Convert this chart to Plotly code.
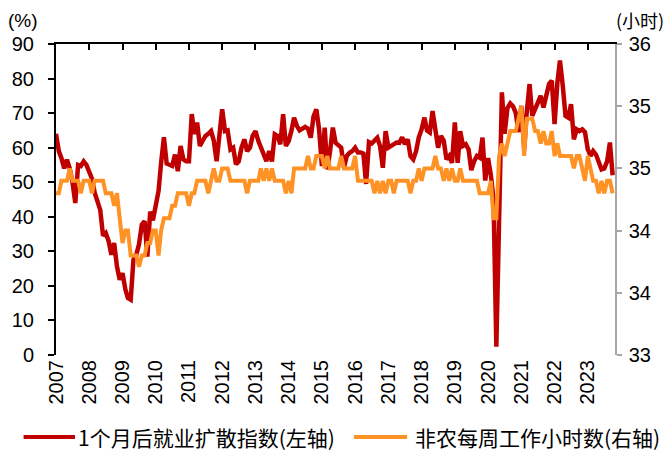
import pandas as pd
import plotly.graph_objects as go

# monthly data, Jan 2007 - Oct 2023
months = pd.date_range("2007-01-01", periods=202, freq="MS")

# 1个月后就业扩散指数 (左轴, %)
diffusion = [
    64, 59, 57, 54, 56.5, 54, 50, 44, 55, 54.7, 56, 55,
    53, 51, 47, 44, 42, 34.5, 35.3, 33, 29, 32.4, 25.6, 21.8,
    23.7, 19, 16.5, 16, 27.6, 29, 32, 37.7, 38.7, 28.5, 41.5, 39,
    44, 47.5, 55.6, 63, 55.4, 55.2, 54.7, 58, 53.2, 60.5, 56.6, 56.1,
    56.1, 69.7, 64, 67.3, 60.5, 62, 63.4, 64, 64.8, 62, 56.1, 63.4,
    71.1, 64.8, 65, 59.5, 60, 55.2, 56, 60, 62.4, 59, 60, 63.4,
    64.8, 62, 60, 57.5, 56.1, 59, 56, 63.9, 63.4, 61, 69.7, 60.5,
    61.9, 65, 68.7, 66.3, 65, 65.5, 66, 65.5, 62.9, 69, 71.1, 65.3,
    54.7, 65.8, 53.7, 59, 65.8, 61.4, 60.5, 60, 54.2, 57.6, 58.5, 59,
    60, 58.6, 58.6, 58.3, 49.5, 61.6, 61.2, 62, 62.9, 60.5, 54.2, 64.8,
    60, 60.5, 61, 61.5, 61.4, 63, 61, 62.4, 57.5, 56.6, 59, 63,
    65.3, 68.7, 65, 64.4, 70.6, 66, 60, 63.4, 62, 56.6, 57.6, 55.6,
    67.3, 55.6, 64.8, 60.5, 61, 59.5, 53.5, 56.1, 57.6, 57.1, 62.9, 50.5,
    57, 52, 45, 2.4, 36.3, 76, 64, 71.5, 72.8, 72, 70, 64.5,
    72.1, 59.5, 70.2, 78.4, 69.2, 71, 72.6, 75, 71.6, 75, 78.4, 79.4,
    66.8, 78.9, 85.2, 77.9, 69.2, 68.7, 72.6, 62.4, 65.3, 64.8, 65.3, 64.5,
    59.5, 57.6, 59, 58, 56, 53.7, 54, 56, 61.5, 52,
]

# 非农每周工作小时数 (右轴, 小时)
hours = [
    34.56, 34.56, 34.68, 34.68, 34.68, 34.80, 34.68, 34.68, 34.68, 34.56, 34.68, 34.68,
    34.68, 34.56, 34.68, 34.68, 34.68, 34.68, 34.56, 34.56, 34.56, 34.44, 34.56, 34.32,
    34.08, 34.20, 34.20, 33.96, 33.96, 33.96, 33.85, 33.96, 33.96, 34.08, 34.08, 34.20,
    34.20, 33.96, 34.20, 34.32, 34.32, 34.32, 34.44, 34.44, 34.56, 34.56, 34.56, 34.56,
    34.44, 34.56, 34.56, 34.68, 34.68, 34.68, 34.68, 34.56, 34.68, 34.80, 34.68, 34.68,
    34.80, 34.80, 34.80, 34.68, 34.68, 34.68, 34.68, 34.68, 34.68, 34.56, 34.68, 34.68,
    34.68, 34.68, 34.80, 34.68, 34.80, 34.68, 34.80, 34.68, 34.68, 34.68, 34.68, 34.56,
    34.68, 34.56, 34.80, 34.80, 34.80, 34.80, 34.80, 34.92, 34.80, 34.80, 34.92, 34.92,
    34.92, 34.80, 34.92, 34.80, 34.80, 34.80, 34.80, 34.92, 34.80, 34.80, 34.80, 34.80,
    34.92, 34.68, 34.68, 34.68, 34.68, 34.68, 34.68, 34.56, 34.68, 34.56, 34.68, 34.56,
    34.68, 34.68, 34.56, 34.68, 34.68, 34.68, 34.68, 34.68, 34.56, 34.68, 34.68, 34.80,
    34.68, 34.80, 34.80, 34.80, 34.80, 34.92, 34.80, 34.80, 34.68, 34.80, 34.68, 34.80,
    34.68, 34.68, 34.80, 34.68, 34.68, 34.68, 34.68, 34.68, 34.68, 34.56, 34.56, 34.56,
    34.56, 34.68, 34.32, 34.32, 34.92, 35.04, 34.92, 35.04, 35.16, 35.16, 35.16, 35.28,
    35.40, 34.92, 35.28, 35.28, 35.28, 35.16, 35.16, 35.04, 35.16, 35.04, 35.04, 35.16,
    34.92, 35.04, 34.92, 34.92, 34.92, 34.92, 34.92, 34.80, 34.92, 34.92, 34.80, 34.68,
    34.92, 34.80, 34.68, 34.68, 34.56, 34.68, 34.56, 34.68, 34.68, 34.56,
]

years = list(range(2007, 2024))
year_ticks = [f"{y}-01-01" for y in years]
year_labels = [str(y) for y in years]

RED = "#C00000"
ORANGE = "#FF9224"
NUM_FONT = "Liberation Sans, Arial, sans-serif"
CJK_FONT = "Noto Sans CJK SC, sans-serif"
x_range = ["2007-01-01", "2023-10-27"]

fig = go.Figure()
fig.add_trace(go.Scatter(x=months, y=diffusion, mode="lines", name="1个月后就业扩散指数(左轴)",
                         line=dict(color=RED, width=4.5), xaxis="x", yaxis="y"))
fig.add_trace(go.Scatter(x=months, y=hours, mode="lines", name="非农每周工作小时数(右轴)",
                         line=dict(color=ORANGE, width=4), xaxis="x2", yaxis="y2"))

fig.update_layout(
    width=669, height=453,
    margin=dict(l=56, r=54, t=44, b=98),
    plot_bgcolor="white", paper_bgcolor="white",
    showlegend=False,
    font=dict(family=NUM_FONT, size=20, color="black"),
    # bottom axis: only the year labels
    xaxis=dict(type="date", range=x_range, showline=False, ticks="", showgrid=False, zeroline=False,
               tickmode="array", tickvals=year_ticks, ticktext=year_labels, tickangle=-90,
               tickfont=dict(size=20)),
    # top axis line with inside ticks
    xaxis2=dict(type="date", range=x_range, overlaying="x", side="top", anchor="y",
                showline=True, linecolor="black", linewidth=2,
                ticks="inside", ticklen=6, tickwidth=2, tickcolor="black",
                tickmode="array", tickvals=year_ticks, showticklabels=False, showgrid=False),
    yaxis=dict(range=[0, 90], dtick=10, showline=True, linecolor="black", linewidth=2,
               ticks="outside", ticklen=6, tickwidth=2, tickcolor="black", ticklabelstandoff=10,
               showgrid=False, zeroline=False, tickfont=dict(size=20)),
    yaxis2=dict(range=[33, 36], tick0=33, dtick=0.6, tickformat=".0f", overlaying="y", side="right",
                anchor="x2", showline=True, linecolor="#A6A6A6", linewidth=1.5,
                ticks="outside", ticklen=5, tickwidth=1.5, tickcolor="#A6A6A6", ticklabelstandoff=3,
                showgrid=False, zeroline=False, tickfont=dict(size=20)),
)

# axis unit labels
fig.add_annotation(text="(%)", xref="paper", yref="paper", x=-0.059, y=1.077,
                   xanchor="center", yanchor="middle", showarrow=False,
                   font=dict(family=NUM_FONT, size=19))
fig.add_annotation(text="(小时)", xref="paper", yref="paper", x=1.045, y=1.077,
                   xanchor="center", yanchor="middle", showarrow=False,
                   font=dict(family=CJK_FONT, size=18))

# legend drawn below the plot
legend_y = -0.264
for name, color, x0, x1, xt in [("1个月后就业扩散指数(左轴)", RED, -0.058, 0.034, 0.036),
                                ("非农每周工作小时数(右轴)", ORANGE, 0.533, 0.628, 0.638)]:
    fig.add_shape(type="line", xref="paper", yref="paper", x0=x0, x1=x1, y0=legend_y, y1=legend_y,
                  line=dict(color=color, width=4))
    fig.add_annotation(text=name, xref="paper", yref="paper", x=xt, y=legend_y,
                       xanchor="left", yanchor="middle", showarrow=False,
                       font=dict(family=CJK_FONT, size=21))

fig.write_html("out.html", config={"displayModeBar": False},
               post_script="document.body.style.margin='0';")
